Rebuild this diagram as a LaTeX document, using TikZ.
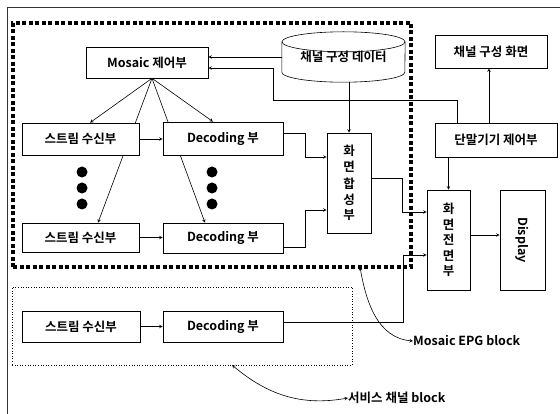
\documentclass[tikz,border=0pt]{standalone}
\usepackage{fontspec}
\setmainfont{Noto Sans CJK KR}[BoldFont={Noto Sans CJK KR Bold}]
\usetikzlibrary{backgrounds}

\begin{document}
\begin{tikzpicture}[x=1pt, y=-1pt,
    box/.style={draw, fill=white, line width=0.6pt, inner sep=0pt, align=center, font=\fontsize{12.5}{15.5}\selectfont\bfseries},
    vbox/.style={box, minimum width=44pt, minimum height=100pt},
    arr/.style={->, >=stealth, line width=0.6pt},
    both/.style={<->, >=stealth, line width=0.6pt},
    lbl/.style={anchor=west, inner sep=0pt, font=\fontsize{12.5}{14}\selectfont\bfseries}
]
\useasboundingbox (0,0) rectangle (560,414);
% outer frame
\draw[line width=0.6pt, black!80] (7,414) -- (7,7) -- (560,7);

% block regions
\node[draw, line width=3.5pt, dash pattern=on 4pt off 2.5pt, minimum width=398pt, minimum height=244pt, inner sep=0pt] (epg) at (212,145) {};
\node[draw, dotted, line width=0.6pt, minimum width=340pt, minimum height=78pt, inner sep=0pt] (svc) at (182,326) {};

% boxes
\node[box, minimum width=122pt, minimum height=31pt] (mosaic) at (147,62.5) {Mosaic 제어부};
\node[inner sep=0pt, minimum width=123pt, minimum height=50pt, font=\fontsize{12.5}{15}\selectfont\bfseries] (chdata) at (343.5,57) {\raisebox{-5pt}{채널 구성 데이터}};
\node[box, minimum width=112pt, minimum height=33pt] (chscreen) at (491,51.5) {채널 구성 화면};
\node[box, minimum width=117pt, minimum height=32pt] (stream1) at (80.5,139) {스트림 수신부};
\node[box, minimum width=120pt, minimum height=33pt] (dec1) at (223,138.5) {Decoding 부};
\node[box, minimum width=117pt, minimum height=29pt] (stream2) at (80.5,237.5) {스트림 수신부};
\node[box, minimum width=120pt, minimum height=30pt] (dec2) at (223,238) {Decoding 부};
\node[box, minimum width=118pt, minimum height=31pt] (stream3) at (81,326.5) {스트림 수신부};
\node[box, minimum width=120pt, minimum height=31pt] (dec3) at (223,326.5) {Decoding 부};
\node[vbox] (merge) at (349,183) {화\\면\\[2pt]합\\성\\부};
\node[box, minimum width=122pt, minimum height=34pt] (term) at (496,140) {단말기기 제어부};
\node[vbox, minimum width=43pt] (front) at (448.5,240) {화\\면\\전\\면\\부};
\node[vbox, minimum width=45pt] (display) at (522.5,240) {\rotatebox{-90}{Display}};

\node[lbl] (epglbl) at (413,341) {Mosaic EPG block};
\node[lbl] (svclbl) at (348,398) {서비스 채널 block};
\coordinate (epgpt) at (360,267);
\coordinate (svcpt) at (232,365);

% cylinder outline
\draw[line width=0.6pt] ([yshift=-10pt]chdata.north) ellipse[x radius=61.5pt, y radius=10pt];
\draw[line width=0.6pt] ([yshift=-10pt]chdata.north west) -- ([yshift=10pt]chdata.south west)
    arc[start angle=180, end angle=360, x radius=61.5pt, y radius=10pt] -- ([yshift=-10pt]chdata.north east);

% dots
\foreach \yy in {172,188,204} {
  \fill (82,\yy) circle (5.5pt);
  \fill (212,\yy) circle (5.5pt);
}

% connectors
\begin{scope}[on background layer]
\draw[arr] ([xshift=5pt]mosaic.south) -- ([xshift=9.5pt]stream1.north);
\draw[arr] ([xshift=5pt]mosaic.south) -- ([xshift=17.5pt]stream2.north);
\draw[arr] ([xshift=5pt]mosaic.south) -- ([xshift=-18pt]dec2.north);
\draw[arr] ([xshift=5pt]mosaic.south) -- ([xshift=-10pt]dec1.north);
\end{scope}
\draw[arr] (stream1.east) -- (stream1.east -| dec1.west);
\draw[arr] (stream2.east) -- (stream2.east -| dec2.west);
\draw[arr] (stream3.east) -- (stream3.east -| dec3.west);
\draw[arr] ([yshift=5.5pt]dec1.east) -- ++(22,0) |- ([yshift=26pt]merge.west);
\draw[arr] ([yshift=-9pt]dec2.east) -- ++(22,0) |- ([yshift=-27pt]merge.west);
\draw[arr] (chdata.west) -- (chdata.west -| mosaic.east);
\draw[arr] (merge.north |- chdata.south) -- (merge.north);
\draw[arr] ([xshift=-39pt]term.north) |- (273,100) |- ([yshift=-5.5pt]mosaic.east);
\draw[arr] ([xshift=-7pt]term.north) -- ([xshift=-7pt]term.north |- chscreen.south);
\draw[arr] (front.north |- term.south) -- (front.north);
\draw[arr] ([yshift=5pt]merge.east) -- ++(31,0) |- ([yshift=28pt]front.west);
\draw[arr] ([yshift=4.5pt]dec3.east) -- ++(120,0) |- ([yshift=-15pt]front.west);
\draw[arr] ([yshift=5pt]front.east) -- ([yshift=5pt]display.west);
\draw[both] (epgpt) to[out=-80, in=175] (epglbl.west);
\draw[both] (svcpt) to[out=-40, in=190] (svclbl.west);
\end{tikzpicture}
\end{document}
